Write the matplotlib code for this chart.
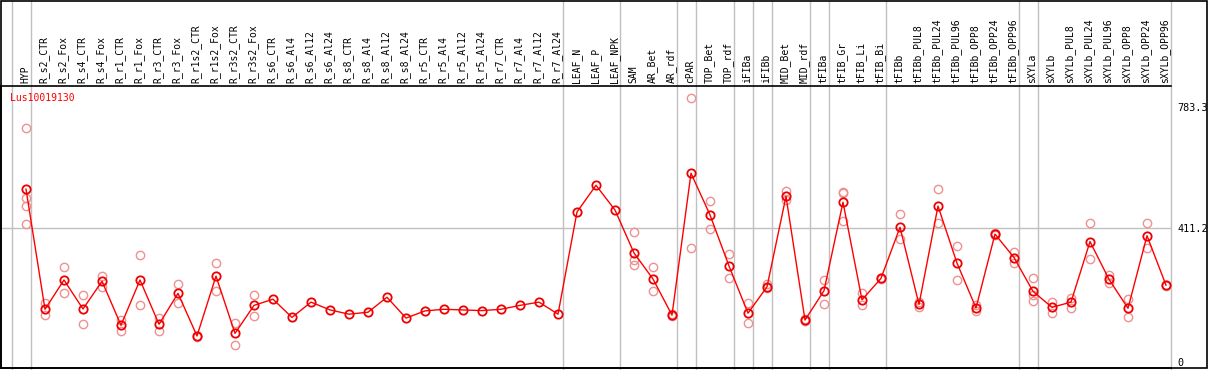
import numpy as np
import matplotlib
matplotlib.use("Agg")
import matplotlib.pyplot as plt
from matplotlib.patches import Rectangle
from matplotlib.transforms import blended_transform_factory

samples = ["HYP",
           "R_s2_CTR", "R_s2_Fox", "R_s4_CTR", "R_s4_Fox", "R_r1_CTR", "R_r1_Fox",
           "R_r3_CTR", "R_r3_Fox", "R_r1s2_CTR", "R_r1s2_Fox", "R_r3s2_CTR", "R_r3s2_Fox",
           "R_s6_CTR", "R_s6_Al4", "R_s6_Al12", "R_s6_Al24",
           "R_s8_CTR", "R_s8_Al4", "R_s8_Al12", "R_s8_Al24",
           "R_r5_CTR", "R_r5_Al4", "R_r5_Al12", "R_r5_Al24",
           "R_r7_CTR", "R_r7_Al4", "R_r7_Al12", "R_r7_Al24",
           "LEAF_N", "LEAF_P", "LEAF_NPK", "SAM", "AR_Bet", "AR_rdf", "cPAR",
           "TOP_Bet", "TOP_rdf", "iFIBa", "iFIBb", "MID_Bet", "MID_rdf",
           "tFIBa", "tFIB_Gr", "tFIB_Li", "tFIB_Bi",
           "tFIBb", "tFIBb_PUL8", "tFIBb_PUL24", "tFIBb_PUL96",
           "tFIBb_OPP8", "tFIBb_OPP24", "tFIBb_OPP96",
           "sXYLa", "sXYLb", "sXYLb_PUL8", "sXYLb_PUL24", "sXYLb_PUL96",
           "sXYLb_OPP8", "sXYLb_OPP24", "sXYLb_OPP96"]

means = [530,
         161, 251, 162, 247, 112, 251, 115, 210, 79, 263, 87, 173,
         192, 136, 183, 159, 146, 152, 198, 134,
         156, 161, 159, 157, 161, 173, 183, 146,
         460, 542, 466, 334, 254, 143, 579,
         451, 294, 149, 230, 508, 128,
         218, 490, 190, 256,
         413, 176, 478, 303, 165, 392, 320,
         216, 167, 183, 369, 253, 164, 387, 235]

# individual replicates (empty where only one sample)
reps = [[717, 502, 478, 422],
        [181, 142], [290, 210], [204, 115], [263, 230], [128, 95], [328, 173],
        [133, 95], [239, 179], [80, 77], [303, 218], [120, 50], [204, 139],
        [], [], [], [], [], [], [], [], [], [], [], [], [], [], [], [],
        [], [], [], [397, 312, 296], [290, 217], [145, 140], [809, 348],
        [494, 407], [331, 256], [179, 118], [239, 225], [524, 497], [130, 126],
        [251, 177], [521, 518, 431], [212, 173], [258, 254],
        [453, 376], [183, 169], [530, 425], [355, 251], [173, 155], [394, 390], [337, 304],
        [256, 206, 186], [184, 151], [197, 164], [425, 315], [267, 241], [193, 138],
        [425, 348], [237, 233]]

# group separators drawn right after these sample indices
group_ends = [-1, 0, 28, 31, 34, 35, 37, 38, 39, 41, 42, 45, 52, 53, 60]

gene = "Lus10019130"
yticks = [0, 411.2, 783.3]

W, H = 1209, 370
fig = plt.figure(figsize=(W / 100, H / 100), dpi=100)
x_left, x_right = -1.3, 60.25
px_l = 26 + x_left * 19
px_r = 26 + x_right * 19
ax = fig.add_axes([px_l / W, 2 / H, (px_r - px_l) / W, 282 / H])

mono = "DejaVu Sans Mono"
x = np.arange(len(samples))

rx = [i for i, r in enumerate(reps) for _ in r]
ry = [v for r in reps for v in r]
ax.plot(rx, ry, "o", ms=6, mfc="none", mec="#f09090", mew=1.0, zorder=2)
ax.plot(x, means, "-", color="red", lw=1, zorder=3)
ax.plot(x, means, "o", ms=6, mfc="none", mec="#ee0000", mew=1.3, zorder=4)

ax.axhline(411.2, color="#c0c0c0", lw=1, zorder=1)
trans = blended_transform_factory(ax.transData, fig.transFigure)
ax.vlines([g + 0.25 for g in group_ends], 0, 1, transform=trans,
          color="#c0c0c0", lw=1, clip_on=False, zorder=1)

ax.set_xlim(x_left, x_right)
ax.set_ylim(-19.4, 847)
ax.set_xticks([])
ax.yaxis.tick_right()
ax.set_yticks(yticks)
ax.set_yticklabels(["0", "411.2", "783.3"], fontfamily=mono, fontsize=7.3)
ax.tick_params(axis="y", length=0, pad=5)
for s in ["left", "top", "bottom"]:
    ax.spines[s].set_linewidth(1.2)
ax.spines["right"].set_visible(False)

for i, lab in enumerate(samples):
    ax.text(i - 0.05, (H - 83) / H, lab, transform=trans, rotation=90,
            ha="center", va="bottom", fontfamily=mono, fontsize=7)

fig.text(10 / W, (H - 98) / H, gene, color="red", fontfamily=mono,
         fontsize=7, va="center", ha="left")
fig.add_artist(Rectangle((1 / W, 2 / H), 1206 / W, 367.5 / H, transform=fig.transFigure,
                         fill=False, ec="black", lw=1.2))

fig.savefig("out.png", dpi=100)
